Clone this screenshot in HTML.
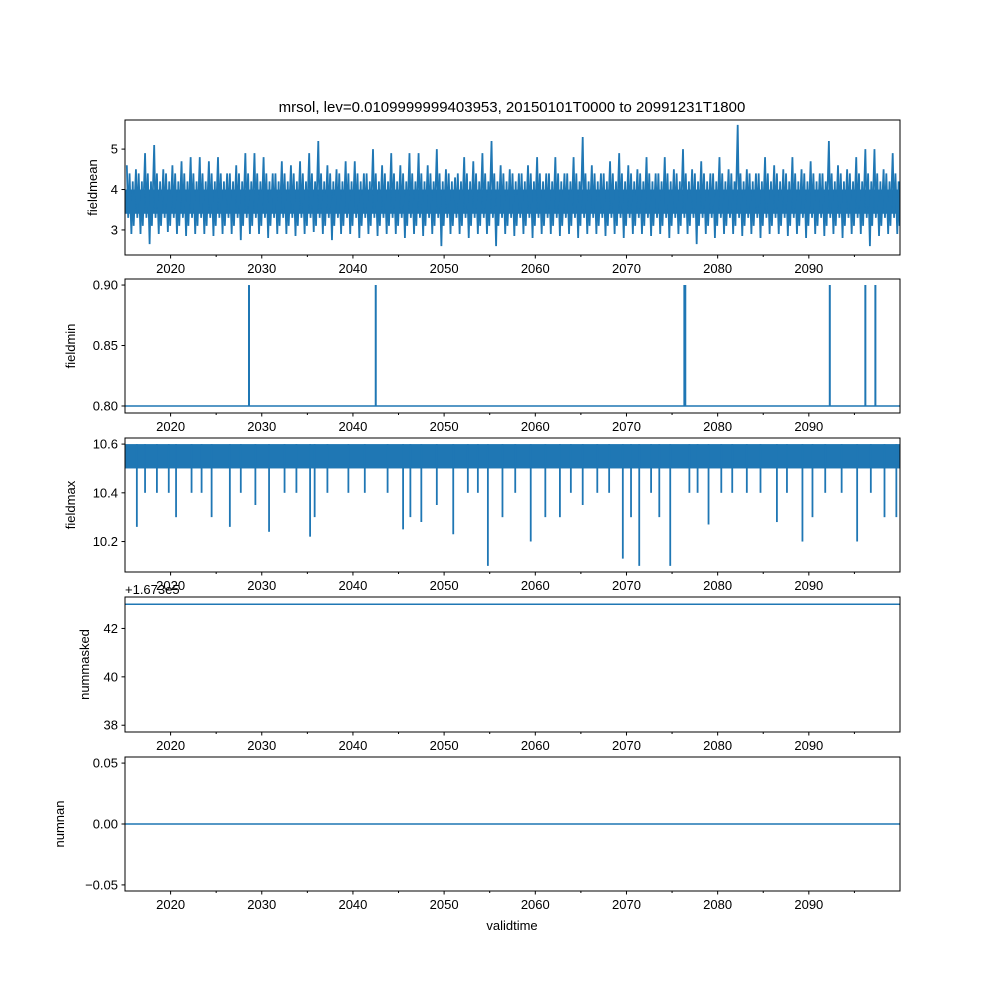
<!DOCTYPE html>
<html><head><meta charset="utf-8"><style>
body{margin:0;background:#fff}
svg text{font-family:"Liberation Sans","DejaVu Sans",sans-serif;fill:#000}
</style></head><body>
<svg id="fig" width="1000" height="1000" viewBox="0 0 1000 1000" xmlns="http://www.w3.org/2000/svg">
<rect width="1000" height="1000" fill="#fff"/>
<text x="512" y="112" font-size="15" text-anchor="middle">mrsol, lev=0.0109999999403953, 20150101T0000 to 20991231T1800</text>
</svg>
<script>
const years = [];for(let y=2015;y<=2099;y++)years.push(y);
const meanHi=[4.6,4.5,4.9,5.1,4.5,4.6,4.7,4.8,4.8,4.7,4.8,4.4,4.6,4.9,4.9,4.8,4.4,4.7,4.6,4.7,4.9,5.2,4.6,4.5,4.7,4.7,4.4,5.0,4.6,4.9,4.6,4.9,4.9,4.6,5.0,4.5,4.3,4.8,4.7,4.9,5.2,4.6,4.5,4.4,4.6,4.8,4.4,4.8,4.4,4.8,5.3,4.6,4.4,4.7,4.9,4.6,4.5,4.8,4.4,4.8,4.5,5.0,4.5,4.7,4.4,4.8,4.5,5.6,4.5,4.4,4.8,4.6,4.5,4.8,4.5,4.7,4.4,5.2,4.6,4.5,4.8,5.0,5.0,4.5,4.9];
const meanLo=[2.9,2.9,2.65,2.9,2.95,2.9,2.85,2.9,2.9,2.85,2.9,2.9,2.75,2.9,2.9,2.8,2.9,2.9,2.85,2.9,2.95,2.9,2.75,2.9,2.9,2.8,2.9,2.85,2.9,2.9,2.8,2.9,2.85,2.9,2.6,2.9,2.9,2.8,2.9,2.9,2.6,2.9,2.85,2.9,2.8,2.9,2.9,2.85,2.9,2.8,2.9,2.9,2.85,2.9,2.8,2.9,2.9,2.85,2.9,2.8,2.9,2.9,2.65,2.9,2.8,2.9,2.9,2.85,2.9,2.8,2.9,2.9,2.85,2.9,2.8,2.9,2.85,2.9,2.8,2.9,2.9,2.6,2.85,2.9,2.9];
const minSpikeT=[2028.6,2042.5,2076.35,2076.45,2092.3,2096.2,2097.3];
const minSpikeV=[0.9,0.9,0.9,0.9,0.9,0.9,0.9];
const maxSpikeT=[2016.3,2020.6,2024.5,2026.5,2030.8,2035.3,2035.8,2045.5,2047.5,2051,2054.8,2059.5,2062.7,2069.6,2071.4,2074.8,2079,2086.5,2089.3,2095.3,2099.6,2017.2,2018.5,2019.8,2022.3,2023.4,2027.7,2029.3,2032.5,2033.8,2037.2,2039.5,2041.3,2043.8,2046.3,2049.2,2052.6,2053.7,2056.4,2057.8,2061.1,2063.9,2065.2,2066.8,2068.1,2070.5,2072.7,2073.6,2076.9,2077.8,2080.4,2081.6,2083.2,2084.7,2087.6,2090.4,2091.8,2093.6,2096.8,2098.3];
const maxSpikeV=[10.26,10.3,10.3,10.26,10.24,10.22,10.3,10.25,10.28,10.23,10.1,10.2,10.3,10.13,10.1,10.1,10.27,10.28,10.2,10.2,10.3,10.4,10.4,10.4,10.4,10.4,10.4,10.35,10.4,10.4,10.4,10.4,10.4,10.4,10.3,10.35,10.4,10.4,10.3,10.4,10.3,10.4,10.35,10.4,10.4,10.3,10.4,10.3,10.4,10.4,10.4,10.4,10.4,10.4,10.4,10.3,10.4,10.4,10.4,10.3];
const numMaskedVal=43.0;
const numNanVal=0;
const xTicks=[2020,2030,2040,2050,2060,2070,2080,2090];
const minorTicks=[2025,2035,2045,2055,2065,2075,2085,2095];

const NS="http://www.w3.org/2000/svg",svg=document.getElementById('fig');
const C="#1f77b4";
function el(t,a,p){const e=document.createElementNS(NS,t);for(const k in a)e.setAttribute(k,a[k]);(p||svg).appendChild(e);return e;}
const X0=125,X1=900,T0=2015.0,T1=2100.0;
const xs=t=>X0+(t-T0)/(T1-T0)*(X1-X0);
const panels=[
 {name:'fieldmean',top:120,bot:255,y0:2.38,y1:5.72,ticks:[3,4,5],fmt:v=>String(v)},
 {name:'fieldmin',top:279,bot:413,y0:0.7942,y1:0.905,ticks:[0.8,0.85,0.9],fmt:v=>v.toFixed(2)},
 {name:'fieldmax',top:438,bot:572,y0:10.075,y1:10.625,ticks:[10.2,10.4,10.6],fmt:v=>v.toFixed(1)},
 {name:'nummasked',top:597,bot:732,y0:37.72,y1:43.30,ticks:[38,40,42],fmt:v=>String(v)},
 {name:'numnan',top:757,bot:891,y0:-0.055,y1:0.055,ticks:[-0.05,0,0.05],fmt:v=>v.toFixed(2).replace('-','−')}
];
panels.forEach((p,i)=>{
 const g=el('g',{});
 
 
 const ys=v=>p.bot-(v-p.y0)/(p.y1-p.y0)*(p.bot-p.top);
 const clip=el('clipPath',{id:'c'+i},g);el('rect',{x:X0,y:p.top,width:X1-X0,height:p.bot-p.top},clip);
 const d=el('g',{'clip-path':'url(#c'+i+')'},g);
 
 
 if(i===0){
  el('rect',{x:X0,y:ys(4.0),width:X1-X0,height:ys(3.4)-ys(4.0),fill:C},d);
  let s='';
  years.forEach((y,k)=>{s+=(k?'L':'M')+xs(y+0.2)+' '+ys(meanHi[k])+'L'+xs(y+0.35)+' '+ys(3.3)+'L'+xs(y+0.5)+' '+ys(4.4)+'L'+xs(y+0.7)+' '+ys(meanLo[k])+'L'+xs(y+0.85)+' '+ys(4.2)+'L'+xs(y+0.95)+' '+ys(3.1);});
  el('path',{d:s,fill:'none',stroke:C,'stroke-width':1.8},d);
 } else if(i===1){
  el('line',{x1:X0,x2:X1,y1:ys(0.8),y2:ys(0.8),stroke:C,'stroke-width':1.5},d);
  minSpikeT.forEach((t,k)=>el('line',{x1:xs(t),x2:xs(t),y1:ys(0.8),y2:ys(minSpikeV[k]),stroke:C,'stroke-width':2},d));
 } else if(i===2){
  el('rect',{x:X0,y:ys(10.6),width:X1-X0,height:ys(10.5)-ys(10.6),fill:C},d);
  maxSpikeT.forEach((t,k)=>el('line',{x1:xs(t),x2:xs(t),y1:ys(10.6),y2:ys(maxSpikeV[k]),stroke:C,'stroke-width':1.8},d));
 } else if(i===3){
  el('line',{x1:X0,x2:X1,y1:ys(numMaskedVal),y2:ys(numMaskedVal),stroke:C,'stroke-width':1.5},d);
 } else {
  el('line',{x1:X0,x2:X1,y1:ys(numNanVal),y2:ys(numNanVal),stroke:C,'stroke-width':1.5},d);
 }
 el('rect',{x:X0,y:p.top,width:X1-X0,height:p.bot-p.top,fill:'none',stroke:'#000','stroke-width':1},g);
 p.ticks.forEach(v=>{const y=ys(v);
  el('line',{x1:X0-3.5,x2:X0,y1:y,y2:y,stroke:'#000'},g);
  const t=el('text',{x:X0-7,y:y+4.5,'font-size':13,'text-anchor':'end'},g);t.textContent=p.fmt(v);
 });
 xTicks.forEach(v=>{const x=xs(v);
  el('line',{x1:x,x2:x,y1:p.bot,y2:p.bot+3.5,stroke:'#000'},g);
  const t=el('text',{x:x,y:p.bot+18,'font-size':13,'text-anchor':'middle'},g);t.textContent=v;
 });
 minorTicks.forEach(v=>el('line',{x1:xs(v),x2:xs(v),y1:p.bot,y2:p.bot+2,stroke:'#000'},g));
 const yl=el('text',{x:0,y:0,'font-size':13,'text-anchor':'middle',transform:`translate(${i==4?64:i==0?97:i==2?75:i==3?89:75},${(p.top+p.bot)/2}) rotate(-90)`},g);
 
 
 yl.textContent=p.name;
});
const off=el('text',{x:125,y:594,'font-size':13});


off.textContent='+1.673e5';
const xl=el('text',{x:512,y:930,'font-size':13,'text-anchor':'middle'});


xl.textContent='validtime';
</script>
</body></html>
